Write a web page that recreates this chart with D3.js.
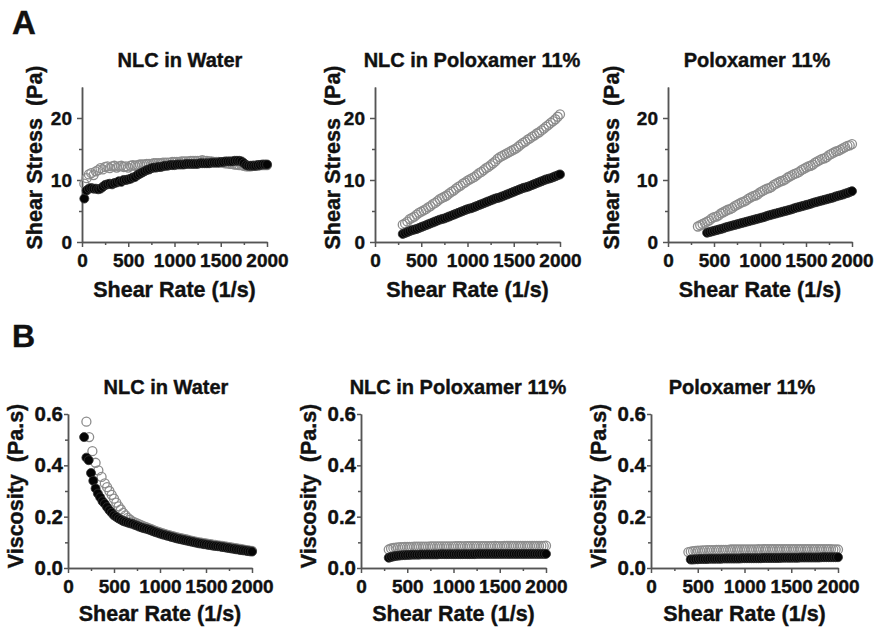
<!DOCTYPE html>
<html>
<head>
<meta charset="utf-8">
<script src="https://cdn.jsdelivr.net/npm/d3@7"></script>
<style>
  body { margin: 0; background: #fff; }
  svg { font-family: "Liberation Sans", Arial, sans-serif; font-weight: bold; }
</style>
</head>
<body>
<svg id="chart" width="878" height="637"></svg>
<script>
// shear rates (1/s)
const rateA1 = [25, 50, 75, 100, 125, 150, 175, 200, 225, 250,
  275, 300, 325, 350, 375, 400, 425, 450, 475, 500,
  525, 550, 575, 600, 625, 650, 675, 700, 725, 750,
  775, 800, 825, 850, 875, 900, 925, 950, 975, 1000,
  1025, 1050, 1075, 1100, 1125, 1150, 1175, 1200, 1225, 1250,
  1275, 1300, 1325, 1350, 1375, 1400, 1425, 1450, 1475, 1500,
  1525, 1550, 1575, 1600, 1625, 1650, 1675, 1700, 1725, 1750,
  1775, 1800, 1825, 1850, 1875, 1900, 1925, 1950, 1975, 2000];
const rate300 = [300, 325, 350, 375, 400, 425, 450, 475, 500, 525,
  550, 575, 600, 625, 650, 675, 700, 725, 750, 775,
  800, 825, 850, 875, 900, 925, 950, 975, 1000, 1025,
  1050, 1075, 1100, 1125, 1150, 1175, 1200, 1225, 1250, 1275,
  1300, 1325, 1350, 1375, 1400, 1425, 1450, 1475, 1500, 1525,
  1550, 1575, 1600, 1625, 1650, 1675, 1700, 1725, 1750, 1775,
  1800, 1825, 1850, 1875, 1900, 1925, 1950, 1975, 2000];
const rate325 = [325, 350, 375, 400, 425, 450, 475, 500, 525, 550,
  575, 600, 625, 650, 675, 700, 725, 750, 775, 800,
  825, 850, 875, 900, 925, 950, 975, 1000, 1025, 1050,
  1075, 1100, 1125, 1150, 1175, 1200, 1225, 1250, 1275, 1300,
  1325, 1350, 1375, 1400, 1425, 1450, 1475, 1500, 1525, 1550,
  1575, 1600, 1625, 1650, 1675, 1700, 1725, 1750, 1775, 1800,
  1825, 1850, 1875, 1900, 1925, 1950, 1975, 2000];
const rate400 = [400, 425, 450, 475, 500, 525, 550, 575, 600, 625,
  650, 675, 700, 725, 750, 775, 800, 825, 850, 875,
  900, 925, 950, 975, 1000, 1025, 1050, 1075, 1100, 1125,
  1150, 1175, 1200, 1225, 1250, 1275, 1300, 1325, 1350, 1375,
  1400, 1425, 1450, 1475, 1500, 1525, 1550, 1575, 1600, 1625,
  1650, 1675, 1700, 1725, 1750, 1775, 1800, 1825, 1850, 1875,
  1900, 1925, 1950, 1975, 2000];
const rate425 = [425, 450, 475, 500, 525, 550, 575, 600, 625, 650,
  675, 700, 725, 750, 775, 800, 825, 850, 875, 900,
  925, 950, 975, 1000, 1025, 1050, 1075, 1100, 1125, 1150,
  1175, 1200, 1225, 1250, 1275, 1300, 1325, 1350, 1375, 1400,
  1425, 1450, 1475, 1500, 1525, 1550, 1575, 1600, 1625, 1650,
  1675, 1700, 1725, 1750, 1775, 1800, 1825, 1850, 1875, 1900,
  1925, 1950, 1975, 2000];
const rateB1Filled = [175, 200, 225, 250, 275, 300, 325, 350, 375, 400,
  425, 450, 475, 500, 525, 550, 575, 600, 625, 650,
  675, 700, 725, 750, 775, 800, 825, 850, 875, 900,
  925, 950, 975, 1000, 1025, 1050, 1075, 1100, 1125, 1150,
  1175, 1200, 1225, 1250, 1275, 1300, 1325, 1350, 1375, 1400,
  1425, 1450, 1475, 1500, 1525, 1550, 1575, 1600, 1625, 1650,
  1675, 1700, 1725, 1750, 1775, 1800, 1825, 1850, 1875, 1900,
  1925, 1950, 1975, 2000];
const rateB1Open = [200, 230, 265, 300, 330, 365,
  400, 425, 450, 475, 500, 525, 550, 575, 600, 625,
  650, 675, 700, 725, 750, 775, 800, 825, 850, 875,
  900, 925, 950, 975, 1000, 1025, 1050, 1075, 1100, 1125,
  1150, 1175, 1200, 1225, 1250, 1275, 1300, 1325, 1350, 1375,
  1400, 1425, 1450, 1475, 1500, 1525, 1550, 1575, 1600, 1625,
  1650, 1675, 1700, 1725, 1750, 1775, 1800, 1825, 1850, 1875,
  1900, 1925, 1950, 1975, 2000];

// shear stress (Pa)
const stressWaterOpen = [9.4, 10.3, 10.9, 11.1, 10.8, 11.4, 11.6, 11.9, 11.7, 12.1,
  12.2, 11.9, 12.2, 12.3, 12.0, 12.2, 12.3, 12.1, 12.2, 12.0,
  12.3, 12.4, 12.3, 12.4, 12.5, 12.5, 12.5, 12.6, 12.6, 12.6,
  12.7, 12.7, 12.7, 12.7, 12.8, 12.8, 12.8, 12.8, 12.9, 12.9,
  12.9, 12.9, 13.0, 13.0, 13.0, 13.0, 13.1, 13.1, 13.1, 13.1,
  13.1, 13.2, 13.1, 13.1, 13.0, 13.0, 12.9, 12.9, 12.9, 12.8,
  12.8, 12.7, 12.7, 12.6, 12.6, 12.5, 12.5, 12.4, 12.4, 12.3,
  12.2, 12.2, 12.2, 12.3, 12.3, 12.3, 12.4, 12.4, 12.4, 12.4];
const stressWaterFilled = [7.0, 8.3, 8.6, 8.7, 8.6, 8.6, 8.5, 8.6, 8.9, 9.2,
  9.3, 9.4, 9.3, 9.5, 9.6, 9.8, 9.7, 10.0, 10.0, 10.1,
  10.2, 10.4, 10.5, 10.8, 11.0, 11.2, 11.4, 11.6, 11.7, 11.9,
  12.0, 12.0, 12.1, 12.1, 12.2, 12.3, 12.3, 12.4, 12.4, 12.4,
  12.5, 12.5, 12.5, 12.5, 12.6, 12.6, 12.6, 12.6, 12.6, 12.6,
  12.7, 12.7, 12.7, 12.7, 12.7, 12.8, 12.8, 12.8, 12.8, 12.9,
  12.9, 13.0, 13.0, 13.0, 13.0, 13.1, 13.1, 13.1, 13.0, 12.7,
  12.4, 12.3, 12.3, 12.3, 12.3, 12.4, 12.4, 12.5, 12.5, 12.5];
const stressNlcPoloOpen = [2.8, 3.0, 3.3, 3.7, 3.9, 4.1, 4.4, 4.7, 4.9, 5.1,
  5.3, 5.6, 5.8, 6.1, 6.3, 6.6, 6.9, 7.1, 7.3, 7.5,
  7.8, 8.1, 8.3, 8.6, 8.9, 9.1, 9.4, 9.6, 9.9, 10.1,
  10.3, 10.5, 10.8, 11.1, 11.3, 11.6, 11.9, 12.1, 12.4, 12.7,
  13.0, 13.4, 13.7, 13.9, 14.1, 14.3, 14.5, 14.7, 14.9, 15.1,
  15.4, 15.7, 16.0, 16.2, 16.5, 16.7, 17.0, 17.2, 17.5, 17.7,
  18.0, 18.3, 18.6, 18.9, 19.2, 19.5, 19.8, 20.2, 20.6];
const stressNlcPoloFilled = [1.3, 1.45, 1.6, 1.75, 1.9, 2.0, 2.1, 2.25, 2.4, 2.55,
  2.7, 2.85, 3.0, 3.15, 3.3, 3.45, 3.6, 3.7, 3.8, 3.95,
  4.1, 4.25, 4.4, 4.55, 4.7, 4.85, 5.0, 5.15, 5.3, 5.4,
  5.5, 5.65, 5.8, 5.95, 6.1, 6.25, 6.4, 6.55, 6.7, 6.85,
  7.0, 7.1, 7.2, 7.35, 7.5, 7.65, 7.8, 7.95, 8.1, 8.25,
  8.4, 8.55, 8.7, 8.8, 8.9, 9.05, 9.2, 9.35, 9.5, 9.65,
  9.8, 9.95, 10.1, 10.2, 10.3, 10.45, 10.6, 10.75, 10.9];
const stressPoloOpen = [2.5, 2.7, 2.9, 3.1, 3.3, 3.5, 3.8, 4.0, 4.1, 4.3,
  4.6, 4.8, 5.0, 5.2, 5.3, 5.5, 5.8, 6.0, 6.2, 6.4,
  6.5, 6.7, 7.0, 7.2, 7.4, 7.5, 7.7, 8.0, 8.2, 8.4,
  8.6, 8.7, 8.9, 9.2, 9.4, 9.6, 9.8, 9.9, 10.1, 10.4,
  10.6, 10.8, 11.0, 11.1, 11.3, 11.6, 11.8, 12.0, 12.2, 12.3,
  12.5, 12.8, 13.0, 13.2, 13.4, 13.5, 13.7, 14.0, 14.2, 14.4,
  14.6, 14.7, 14.9, 15.1, 15.3, 15.5, 15.6, 15.8];
const stressPoloFilled = [1.5, 1.6, 1.7, 1.8, 1.9, 2.0, 2.1, 2.2, 2.35, 2.45,
  2.55, 2.65, 2.75, 2.85, 2.95, 3.05, 3.15, 3.25, 3.35, 3.45,
  3.55, 3.65, 3.75, 3.85, 3.95, 4.05, 4.2, 4.3, 4.4, 4.5,
  4.6, 4.7, 4.8, 4.9, 5.0, 5.1, 5.2, 5.3, 5.45, 5.55,
  5.65, 5.75, 5.85, 5.95, 6.05, 6.15, 6.3, 6.4, 6.5, 6.6,
  6.7, 6.8, 6.9, 7.0, 7.1, 7.2, 7.35, 7.45, 7.55, 7.65,
  7.8, 7.9, 8.05, 8.2];

// viscosity (Pa.s)
const viscWaterOpen = [0.57, 0.51, 0.455, 0.41, 0.38, 0.355,
  0.33, 0.315, 0.30, 0.285, 0.27, 0.255, 0.24, 0.228, 0.215, 0.205,
  0.195, 0.188, 0.182, 0.178, 0.174, 0.170, 0.166, 0.162, 0.159, 0.155,
  0.152, 0.148, 0.145, 0.142, 0.139, 0.136, 0.133, 0.130, 0.128, 0.125,
  0.123, 0.120, 0.118, 0.116, 0.114, 0.112, 0.110, 0.108, 0.106, 0.104,
  0.102, 0.100, 0.099, 0.097, 0.096, 0.094, 0.093, 0.091, 0.090, 0.088,
  0.087, 0.086, 0.084, 0.083, 0.081, 0.080, 0.078, 0.077, 0.075, 0.074,
  0.072, 0.071, 0.070, 0.068, 0.067];
const viscWaterFilled = [0.51, 0.43, 0.42, 0.37, 0.34, 0.31, 0.29, 0.275, 0.26, 0.25,
  0.237, 0.225, 0.215, 0.205, 0.199, 0.193, 0.188, 0.183, 0.180, 0.177,
  0.174, 0.172, 0.168, 0.165, 0.161, 0.158, 0.155, 0.153, 0.150, 0.147,
  0.143, 0.140, 0.137, 0.134, 0.131, 0.129, 0.126, 0.124, 0.121, 0.119,
  0.116, 0.114, 0.112, 0.110, 0.108, 0.106, 0.104, 0.102, 0.100, 0.098,
  0.096, 0.095, 0.093, 0.092, 0.090, 0.089, 0.087, 0.086, 0.085, 0.084,
  0.082, 0.081, 0.079, 0.078, 0.076, 0.075, 0.073, 0.072, 0.070, 0.069,
  0.068, 0.066, 0.065, 0.064];
const viscNlcPoloOpen = [0.072, 0.076, 0.078, 0.079, 0.080, 0.081, 0.081, 0.082, 0.082, 0.082,
  0.082, 0.083, 0.083, 0.083, 0.083, 0.083, 0.083, 0.083, 0.084, 0.084,
  0.084, 0.084, 0.084, 0.084, 0.084, 0.084, 0.084, 0.084, 0.084, 0.085,
  0.085, 0.085, 0.084, 0.085, 0.085, 0.085, 0.085, 0.085, 0.085, 0.085,
  0.085, 0.085, 0.085, 0.085, 0.085, 0.085, 0.086, 0.085, 0.085, 0.085,
  0.086, 0.086, 0.086, 0.086, 0.086, 0.086, 0.086, 0.086, 0.086, 0.086,
  0.086, 0.086, 0.086, 0.086, 0.086, 0.086, 0.086, 0.086, 0.087];
const viscNlcPoloFilled = [0.040, 0.043, 0.045, 0.047, 0.048, 0.049, 0.050, 0.050, 0.051, 0.051,
  0.052, 0.052, 0.052, 0.052, 0.053, 0.053, 0.053, 0.053, 0.053, 0.053,
  0.053, 0.053, 0.054, 0.054, 0.054, 0.054, 0.054, 0.054, 0.054, 0.054,
  0.054, 0.054, 0.054, 0.054, 0.054, 0.054, 0.054, 0.054, 0.055, 0.055,
  0.055, 0.055, 0.055, 0.055, 0.055, 0.055, 0.055, 0.055, 0.055, 0.055,
  0.055, 0.055, 0.055, 0.055, 0.055, 0.055, 0.055, 0.055, 0.055, 0.055,
  0.055, 0.055, 0.055, 0.055, 0.055, 0.055, 0.055, 0.055, 0.055];
const viscPoloOpen = [0.062, 0.064, 0.066, 0.067, 0.068, 0.068, 0.069, 0.069, 0.070, 0.070,
  0.070, 0.070, 0.071, 0.071, 0.071, 0.071, 0.071, 0.071, 0.072, 0.072,
  0.072, 0.072, 0.072, 0.072, 0.072, 0.072, 0.072, 0.072, 0.072, 0.072,
  0.073, 0.072, 0.073, 0.073, 0.073, 0.073, 0.073, 0.073, 0.073, 0.073,
  0.073, 0.073, 0.073, 0.073, 0.073, 0.073, 0.073, 0.073, 0.073, 0.073,
  0.073, 0.073, 0.073, 0.073, 0.073, 0.073, 0.073, 0.073, 0.073, 0.073,
  0.073, 0.073, 0.072, 0.072, 0.072];
const viscPoloFilled = [0.033, 0.033, 0.034, 0.034, 0.035, 0.035, 0.035, 0.035, 0.036, 0.036,
  0.036, 0.036, 0.036, 0.036, 0.037, 0.037, 0.037, 0.037, 0.037, 0.037,
  0.037, 0.037, 0.038, 0.038, 0.038, 0.038, 0.038, 0.038, 0.038, 0.038,
  0.038, 0.039, 0.039, 0.039, 0.039, 0.039, 0.039, 0.039, 0.039, 0.040,
  0.040, 0.040, 0.040, 0.040, 0.040, 0.040, 0.040, 0.041, 0.041, 0.041,
  0.041, 0.041, 0.041, 0.041, 0.041, 0.041, 0.042, 0.042, 0.042, 0.042,
  0.042, 0.042, 0.042, 0.042];

const titles = ["NLC in Water", "NLC in Poloxamer 11%", "Poloxamer 11%"];
const rateTicks = [0, 500, 1000, 1500, 2000];
const rateMinor = [250, 750, 1250, 1750];
const stressTicks = [0, 10, 20];
const stressMinor = [5, 15];
const viscTicks = [0, 0.2, 0.4, 0.6];
const viscMinor = [0.1, 0.3, 0.5];

const svg = d3.select("#chart");
const ink = "#111";

const rows = {
  A: { top: 87, bottom: 242, ymax: 25, ticks: stressTicks, minor: stressMinor, fmt: d3.format("d"),
       ylabel: "Shear Stress\u00a0\u00a0(Pa)", tick: 5, pad: 5, yFont: 19, xlabDy: 55, labShift: -7 },
  B: { top: 414, bottom: 568, ymax: 0.6, ticks: viscTicks, minor: viscMinor, fmt: d3.format(".1f"),
       ylabel: "Viscosity\u00a0\u00a0(Pa.s)", tick: 4, pad: 1, yFont: 20.5, xlabDy: 53, labShift: -5 }
};

const panels = [
  { row: "A", left: 82, right: 267, labX: 42, title: titles[0], titleX: 180,
    open: [rateA1, stressWaterOpen], filled: [rateA1, stressWaterFilled] },
  { row: "A", left: 375, right: 560, labX: 340, title: titles[1], titleX: 472,
    open: [rate300, stressNlcPoloOpen], filled: [rate300, stressNlcPoloFilled] },
  { row: "A", left: 668, right: 852, labX: 619, title: titles[2], titleX: 757,
    open: [rate325, stressPoloOpen], filled: [rate425, stressPoloFilled] },
  { row: "B", left: 68, right: 252, labX: 23, title: titles[0], titleX: 166,
    open: [rateB1Open, viscWaterOpen], filled: [rateB1Filled, viscWaterFilled] },
  { row: "B", left: 361, right: 546, labX: 316, title: titles[1], titleX: 458,
    open: [rate300, viscNlcPoloOpen], filled: [rate300, viscNlcPoloFilled] },
  { row: "B", left: 651, right: 838, labX: 606, title: titles[2], titleX: 742,
    open: [rate400, viscPoloOpen], filled: [rate425, viscPoloFilled] }
];

function heavy(sel, size) {
  sel.style("font-size", size + "px").style("font-weight", "bold")
    .attr("fill", ink).attr("stroke", ink).attr("stroke-width", 0.4);
}

panels.forEach(p => {
  const r = rows[p.row];
  const x = d3.scaleLinear().domain([0, 2000]).range([p.left, p.right]);
  const y = d3.scaleLinear().domain([0, r.ymax]).range([r.bottom, r.top]);
  const g = svg.append("g");

  // axes, major + minor ticks
  const xAxis = g.append("g").attr("transform", `translate(0,${r.bottom})`)
    .call(d3.axisBottom(x).tickValues(rateTicks).tickFormat(d3.format("d")).tickSize(5).tickSizeOuter(0).tickPadding(7));
  g.append("g").attr("transform", `translate(0,${r.bottom})`)
    .call(d3.axisBottom(x).tickValues(rateMinor).tickFormat("").tickSize(3).tickSizeOuter(0));
  const yAxis = g.append("g").attr("transform", `translate(${p.left},0)`)
    .call(d3.axisLeft(y).tickValues(r.ticks).tickFormat(r.fmt).tickSize(r.tick).tickSizeOuter(0).tickPadding(r.pad));
  g.append("g").attr("transform", `translate(${p.left},0)`)
    .call(d3.axisLeft(y).tickValues(r.minor).tickFormat("").tickSize(3).tickSizeOuter(0));

  g.selectAll(".domain, .tick line").attr("stroke", "#555").attr("stroke-width", 1.5);
  xAxis.selectAll(".tick text").call(heavy, 19);
  yAxis.selectAll(".tick text").call(heavy, r.yFont);

  // points: open grey first, filled black on top
  const open = d3.zip(p.open[0], p.open[1]);
  const filled = d3.zip(p.filled[0], p.filled[1]);
  g.append("g").selectAll("circle").data(open).enter().append("circle")
    .attr("cx", d => x(d[0])).attr("cy", d => y(d[1])).attr("r", 4.5)
    .attr("fill", "none").attr("stroke", "#8c8c8c").attr("stroke-width", 1.3);
  g.append("g").selectAll("circle").data(filled).enter().append("circle")
    .attr("cx", d => x(d[0])).attr("cy", d => y(d[1])).attr("r", 4.5)
    .attr("fill", "#050505").attr("stroke", "#333").attr("stroke-width", 0.8);

  // titles & axis labels
  g.append("text").attr("x", p.titleX).attr("y", r.top - 20)
    .attr("text-anchor", "middle").call(heavy, 20).text(p.title);
  g.append("text").attr("x", (p.left + p.right) / 2).attr("y", r.bottom + r.xlabDy)
    .attr("text-anchor", "middle").call(heavy, 21.5).text("Shear Rate (1/s)");
  g.append("text")
    .attr("transform", `translate(${p.labX},${(r.top + r.bottom) / 2 + r.labShift}) rotate(-90)`)
    .attr("text-anchor", "middle").call(heavy, 21.5).text(r.ylabel);
});

svg.append("text").attr("x", 12).attr("y", 34).call(heavy, 33).text("A");
svg.append("text").attr("x", 12).attr("y", 347).call(heavy, 32).text("B");
</script>
</body>
</html>
